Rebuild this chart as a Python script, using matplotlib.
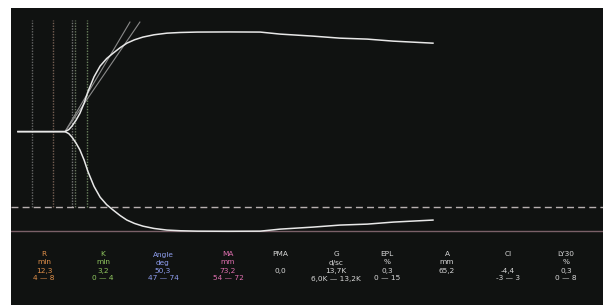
import matplotlib.pyplot as plt

# TEG tracing: time (min) vs full amplitude (mm)
tiempo = [0.0, 12.3, 13.3, 14.1, 15.2, 16.2, 17.3, 18.3, 19.9, 21.5, 23.2, 24.9,
          26.7, 28.5, 30.5, 32.7, 35.6, 39.0, 42.5, 46.9, 55.0,
          63.4, 68.6, 77.2, 84.3, 91.4, 98.2, 108.6]
amplitud = [0.0, 0.0, 1.5, 4.0, 8.5, 13.5, 21.0, 29.5, 40.5, 48.5, 54.0, 58.0,
            62.0, 65.4, 67.9, 69.9, 71.6, 72.8, 73.3, 73.6, 73.7,
            73.6, 72.1, 70.6, 69.1, 68.4, 66.9, 65.4]

# tangent lines of the angle (start at R)
tangente_t = [[12.3, 29.3], [12.3, 31.9]]
tangente_a = [[0.0, 40.5], [0.0, 40.5]]

# vertical markers (min) and their colours
marcas_t = [3.7, 9.2, 14.1, 14.9, 18.1]
marcas_color = ['#8a8a8a', '#a08070', '#a0a0a0', '#8fa080', '#90b080']

# reference lines (half amplitude, mm)
linea_discontinua = -27.9
linea_solida = -36.8

# parameter table
etiquetas = ['R', 'K', 'Angle', 'MA', 'PMA', 'G', 'EPL', 'A', 'CI', 'LY30']
unidades = ['min', 'min', 'deg', 'mm', '', 'd/sc', '%', 'mm', '', '%']
valores = ['12,3', '3,2', '50,3', '73,2', '0,0', '13,7K', '0,3', '65,2', '-4,4', '0,3']
rangos = ['4 — 8', '0 — 4', '47 — 74', '54 — 72', '', '6,0K — 13,2K', '0 — 15', '', '-3 — 3', '0 — 8']
colores = ['#e0904a', '#90c860', '#8f9ff0', '#e070b0', '#d8d8d8',
           '#d8d8d8', '#d8d8d8', '#d8d8d8', '#d8d8d8', '#d8d8d8']
col_x = [44, 103, 163, 228, 280, 336, 387, 447, 508, 566]  # px centres

fig = plt.figure(figsize=(6.03, 3.05), dpi=100, facecolor='white')
ax = fig.add_axes([11 / 603, 0, 592 / 603, 297 / 305])
ax.set_facecolor('#101211')
ax.set_xlim(-1.83, 153.1)
ax.set_ylim(-64.1, 45.7)
ax.set_xticks([])
ax.set_yticks([])
for s in ax.spines.values():
    s.set_visible(False)

for t, c in zip(marcas_t, marcas_color):
    ax.plot([t, t], [linea_discontinua, 41.2], color=c, lw=1.0, ls=(0, (1, 1)), alpha=0.7)

for tt, aa in zip(tangente_t, tangente_a):
    ax.plot(tt, aa, color='#8a8a8a', lw=0.8)

ax.axhline(linea_discontinua, color='#b8b0b0', lw=1.0, ls=(0, (5, 3)))
ax.axhline(linea_solida, color='#7a6068', lw=1.0)

mitad = [a / 2 for a in amplitud]
ax.plot(tiempo, mitad, color='#e8e8e8', lw=1.1)
ax.plot(tiempo, [-m for m in mitad], color='#e8e8e8', lw=1.1)

filas_y = [254.5, 262.5, 270.5, 278.5]
for i in range(len(etiquetas)):
    fx = col_x[i] / 603
    for texto, y in zip([etiquetas[i], unidades[i], valores[i], rangos[i]], filas_y):
        if texto:
            fig.text(fx, 1 - y / 305, texto, color=colores[i], fontsize=5.3,
                     ha='center', va='center')

fig.savefig('out.png', dpi=100, facecolor='white')
